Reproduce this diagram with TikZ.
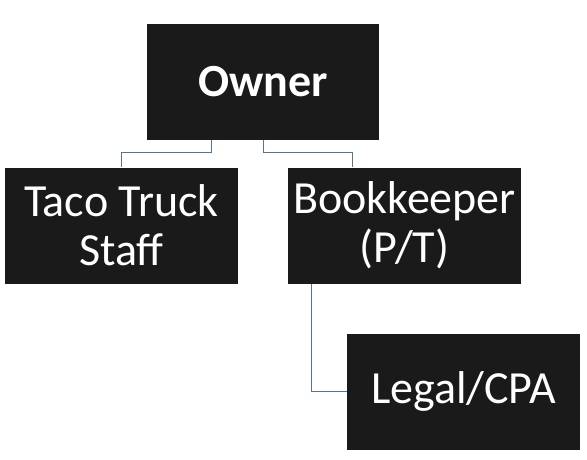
\documentclass[tikz,border=0pt]{standalone}
\usepackage{fontspec}
\setmainfont{Carlito}
\definecolor{boxfill}{HTML}{1B1A1A}
\definecolor{linkblue}{HTML}{5075A3}
\tikzset{
  orgbox/.style={fill=boxfill, text=white, minimum width=233pt, minimum height=116pt,
    inner sep=0pt, align=center, font=\fontsize{46}{49}\selectfont},
  orglink/.style={draw=linkblue, line width=0.9pt}
}
\begin{document}
\begin{tikzpicture}[x=1pt,y=-1pt]
  \useasboundingbox (0,0) rectangle (587,459);

  % Marking box Owner
  \node [orgbox, minimum width=232pt, font=\fontsize{46}{49}\selectfont\bfseries] (owner) at (263,81.5) {Owner};

  % Marking box Taco Truck Staff
  \node [orgbox] (taco) at (121.5,225.5) {Taco Truck\\Staff};

  % Marking box Bookkeeper
  \node [orgbox] (book) at (404.5,225.5) {Bookkeeper\\(P/T)};

  % Marking box Legal/CPA
  \node [orgbox] (legal) at (463.5,391.5) {Legal/CPA};

  % Drawing line owner -- taco
  \coordinate (tacoout) at ([xshift=-52pt]owner.south);
  \draw [orglink] (tacoout) -- ++(0,13) -| (taco.north);

  % Drawing line owner -- book
  \coordinate (bookin) at ([xshift=65pt]book.north west);
  \draw [orglink] (owner.south) -- ++(0,13) -| (bookin);

  % Drawing line book -- legal
  \coordinate (bookout) at ([xshift=24pt]book.south west);
  \draw [orglink] (bookout) |- (legal.west);
\end{tikzpicture}
\end{document}
